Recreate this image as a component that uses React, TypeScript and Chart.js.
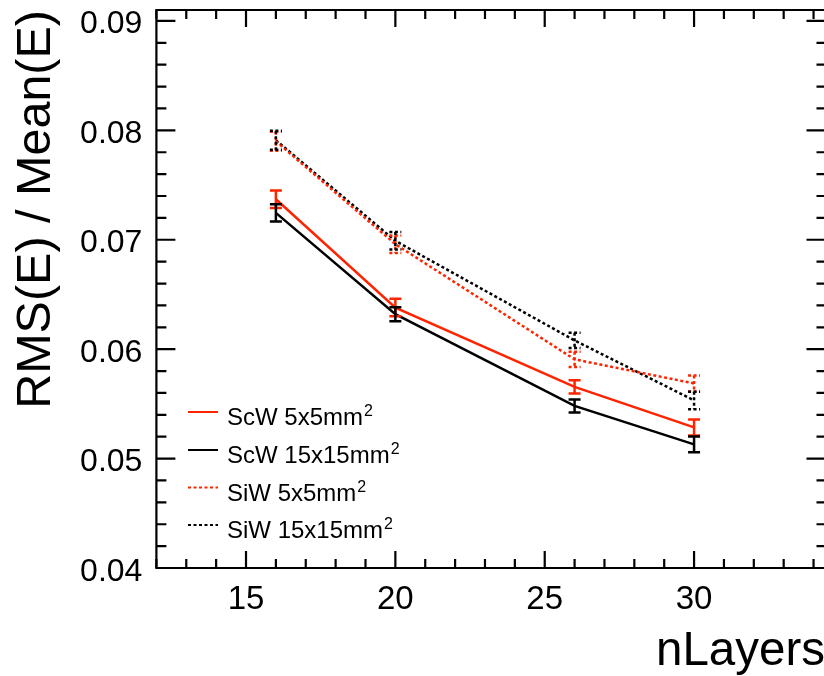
import React, { useEffect, useRef } from "react";
import { Chart, registerables } from "chart.js";

Chart.register(...registerables);

// ---- data ----
const nLayers = [16, 20, 26, 30];
const scw5 = [0.0737, 0.0638, 0.05655, 0.05285];
const scw5Err = [0.0008, 0.0008, 0.0006, 0.00073];
const scw15 = [0.07246, 0.0632, 0.05481, 0.0513];
const scw15Err = [0.00078, 0.00064, 0.0006, 0.00073];
const siw5 = [0.079, 0.0696, 0.05907, 0.05687];
const siw5Err = [0.00087, 0.0008, 0.0007, 0.00073];
const siw15 = [0.0791, 0.0699, 0.0608, 0.05532];
const siw15Err = [0.00087, 0.0008, 0.0007, 0.0008];

const seriesLabels = ["ScW 5x5mm²", "ScW 15x15mm²", "SiW 5x5mm²", "SiW 15x15mm²"];
const xTickValues = [15, 20, 25, 30];
const xTickLabels = ["15", "20", "25", "30"];
const yTickValues = [0.04, 0.05, 0.06, 0.07, 0.08, 0.09];
const yTickLabels = ["0.04", "0.05", "0.06", "0.07", "0.08", "0.09"];
const xTitle = "nLayers";
const yTitle = "RMS(E) / Mean(E)";

const X_MIN = 12;
const X_MAX = 34.4;
const Y_MIN = 0.04;
const Y_MAX = 0.091;

const RED = "#ff2400";
const BLACK = "#000000";
const FONT = '"Liberation Sans", Arial, Helvetica, sans-serif';
const DOT = [3, 2.5];

const W = 860;
const H = 676;
const PLOT_LEFT = 156.4;
const PLOT_RIGHT = 825.5;

const errorBarPlugin = {
  id: "errorBars",
  afterDatasetsDraw(chart: any) {
    const ctx = chart.ctx;
    const xs = chart.scales.x;
    const ys = chart.scales.y;
    chart.data.datasets.forEach((ds: any, i: number) => {
      const meta = chart.getDatasetMeta(i);
      if (meta.hidden) return;
      ctx.save();
      ctx.strokeStyle = ds.borderColor;
      ctx.lineWidth = 2.5;
      ctx.setLineDash(ds.borderDash || []);
      ds.data.forEach((p: any, j: number) => {
        const e = ds.errors[j];
        const x = xs.getPixelForValue(p.x);
        const yTop = ys.getPixelForValue(p.y + e);
        const yBot = ys.getPixelForValue(p.y - e);
        ctx.beginPath();
        ctx.moveTo(x, yTop);
        ctx.lineTo(x, yBot);
        ctx.moveTo(x - 6, yTop);
        ctx.lineTo(x + 6, yTop);
        ctx.moveTo(x - 6, yBot);
        ctx.lineTo(x + 6, yBot);
        ctx.stroke();
      });
      ctx.restore();
    });
  },
};

const frameAxesPlugin = {
  id: "rootFrame",
  afterDraw(chart: any) {
    const ctx = chart.ctx;
    const { left, right, top, bottom } = chart.chartArea;
    const xs = chart.scales.x;
    const ys = chart.scales.y;
    ctx.save();
    ctx.strokeStyle = "#000";
    ctx.lineWidth = 2.2;
    ctx.setLineDash([]);
    // frame
    ctx.beginPath();
    ctx.rect(left, top, right - left, bottom - top);
    ctx.stroke();

    // x ticks (minor every 1, major every 5)
    ctx.beginPath();
    for (let v = X_MIN; v <= X_MAX; v += 1) {
      const x = xs.getPixelForValue(v);
      const major = v % 5 === 0;
      const lb = major ? 17 : 9;
      const lt = major ? 17 : 9;
      ctx.moveTo(x, bottom);
      ctx.lineTo(x, bottom - lb);
      ctx.moveTo(x, top);
      ctx.lineTo(x, top + lt);
    }
    // y ticks (minor every 0.002, major every 0.01)
    for (let k = 0; k <= 25; k++) {
      const v = Y_MIN + k * 0.002;
      const y = ys.getPixelForValue(v);
      const major = k % 5 === 0;
      const ll = major ? 19 : 10;
      const lr = major ? 19 : 9;
      ctx.moveTo(left, y);
      ctx.lineTo(left + ll, y);
      ctx.moveTo(right, y);
      ctx.lineTo(right - lr, y);
    }
    ctx.stroke();

    // tick labels
    ctx.fillStyle = "#000";
    ctx.font = `32px ${FONT}`;
    ctx.textAlign = "right";
    ctx.textBaseline = "alphabetic";
    yTickValues.forEach((v, i) => {
      const y = ys.getPixelForValue(v);
      ctx.fillText(yTickLabels[i], left - 14, y + 12.5);
    });
    ctx.font = `33px ${FONT}`;
    ctx.textAlign = "center";
    xTickValues.forEach((v, i) => {
      const x = xs.getPixelForValue(v);
      ctx.fillText(xTickLabels[i], x, 609);
    });

    // axis titles
    ctx.font = `47.5px ${FONT}`;
    ctx.textAlign = "right";
    ctx.fillText(xTitle, 825, 665);

    ctx.save();
    ctx.font = `48.5px ${FONT}`;
    ctx.translate(50, 10);
    ctx.rotate(-Math.PI / 2);
    ctx.textAlign = "right";
    ctx.fillText(yTitle, 0, 0);
    ctx.restore();

    // legend
    const rows = [412, 450, 487.5, 525];
    chart.data.datasets.forEach((ds: any, i: number) => {
      const y = rows[i];
      ctx.save();
      ctx.strokeStyle = ds.borderColor;
      ctx.lineWidth = 2;
      ctx.setLineDash(ds.borderDash || []);
      ctx.beginPath();
      ctx.moveTo(188, y);
      ctx.lineTo(218, y);
      ctx.stroke();
      ctx.restore();
      const label: string = ds.label;
      const hasSup = label.endsWith("²");
      const main = hasSup ? label.slice(0, -1) : label;
      ctx.font = `24px ${FONT}`;
      ctx.textAlign = "left";
      ctx.fillStyle = "#000";
      ctx.fillText(main, 227, y + 13);
      if (hasSup) {
        const w = ctx.measureText(main).width;
        ctx.font = `16px ${FONT}`;
        ctx.fillText("2", 227 + w + 1, y + 4);
      }
    });
    ctx.restore();
  },
};

function toPoints(ys: number[]) {
  return nLayers.map((x, i) => ({ x, y: ys[i] }));
}

export default function App() {
  const ref = useRef<HTMLCanvasElement | null>(null);

  useEffect(() => {
    if (!ref.current) return;
    const chart = new Chart(ref.current, {
      type: "line",
      data: {
        datasets: [
          { label: seriesLabels[0], data: toPoints(scw5), errors: scw5Err, borderColor: RED, borderDash: [] },
          { label: seriesLabels[1], data: toPoints(scw15), errors: scw15Err, borderColor: BLACK, borderDash: [] },
          { label: seriesLabels[2], data: toPoints(siw5), errors: siw5Err, borderColor: RED, borderDash: DOT },
          { label: seriesLabels[3], data: toPoints(siw15), errors: siw15Err, borderColor: BLACK, borderDash: DOT },
        ].map((d: any) => ({
          ...d,
          borderWidth: 2.5,
          pointRadius: 0,
          pointHoverRadius: 0,
          tension: 0,
          fill: false,
        })) as any,
      },
      options: {
        animation: false,
        responsive: false,
        maintainAspectRatio: false,
        events: [],
        layout: { padding: { left: PLOT_LEFT, right: W - PLOT_RIGHT, top: 10, bottom: H - 568 } },
        scales: {
          x: { type: "linear", min: X_MIN, max: X_MAX, display: false },
          y: { type: "linear", min: Y_MIN, max: Y_MAX, display: false },
        },
        plugins: {
          legend: { display: false },
          tooltip: { enabled: false },
        },
      },
      plugins: [errorBarPlugin, frameAxesPlugin],
    });
    return () => chart.destroy();
  }, []);

  return (
    <div
      style={{
        position: "fixed",
        left: 0,
        top: 0,
        width: 824,
        height: 676,
        overflow: "hidden",
        background: "#fff",
      }}
    >
      <canvas ref={ref} width={W} height={H} style={{ display: "block", width: W, height: H }} />
    </div>
  );
}
